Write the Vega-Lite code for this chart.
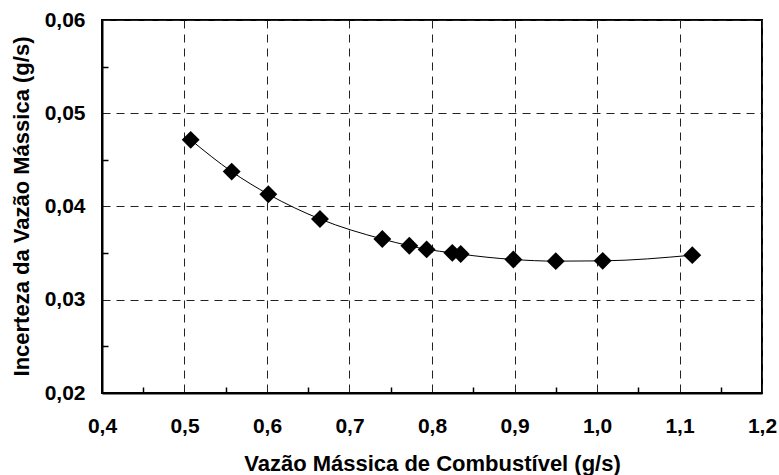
{
  "$schema": "https://vega.github.io/schema/vega-lite/v6.json",
  "width": 660,
  "height": 373,
  "autosize": {"type": "none"},
  "padding": {"left": 102, "top": 20, "right": 17, "bottom": 82},
  "background": "white",
  "config": {
    "view": {"stroke": "black", "strokeWidth": 2},
    "font": "Liberation Sans"
  },
  "data": {
    "values": [
      {"vazao": 0.5075, "incerteza": 0.04715},
      {"vazao": 0.5572, "incerteza": 0.04374},
      {"vazao": 0.6016, "incerteza": 0.04131},
      {"vazao": 0.6642, "incerteza": 0.03866},
      {"vazao": 0.7398, "incerteza": 0.03651},
      {"vazao": 0.7725, "incerteza": 0.03579},
      {"vazao": 0.7935, "incerteza": 0.03540},
      {"vazao": 0.8246, "incerteza": 0.03503},
      {"vazao": 0.8348, "incerteza": 0.03490},
      {"vazao": 0.8986, "incerteza": 0.03432},
      {"vazao": 0.9500, "incerteza": 0.03414},
      {"vazao": 1.0069, "incerteza": 0.03417},
      {"vazao": 1.1155, "incerteza": 0.03478}
    ]
  },
  "layer": [
    {
      "mark": {"type": "line", "interpolate": "monotone", "color": "black", "strokeWidth": 1},
      "encoding": {
        "x": {
          "field": "vazao", "type": "quantitative",
          "scale": {"domain": [0.4, 1.2], "nice": false, "zero": false},
          "axis": {
            "orient": "bottom",
            "values": [0.4, 0.5, 0.6, 0.7, 0.8, 0.9, 1.0, 1.1, 1.2],
            "grid": true, "gridDash": [8, 6], "gridColor": "#222", "gridWidth": 1,
            "ticks": false,
            "domainColor": "black", "domainWidth": 2,
            "labelFont": "Liberation Sans", "labelFontSize": 21, "labelFontWeight": "bold", "labelColor": "black",
            "labelPadding": 39, "labelBaseline": "alphabetic", "labelFlush": false,
            "labelExpr": "replace(format(datum.value, '.1f'), '.', ',')",
            "title": "Vazão Mássica de Combustível (g/s)",
            "titleFont": "Liberation Sans", "titleFontSize": 22, "titleFontWeight": "bold", "titleColor": "black",
            "titleX": 330, "titleY": 77, "titleBaseline": "alphabetic", "titleAlign": "center"
          }
        },
        "y": {
          "field": "incerteza", "type": "quantitative",
          "scale": {"domain": [0.02, 0.06], "nice": false, "zero": false},
          "axis": {
            "orient": "left",
            "values": [0.02, 0.03, 0.04, 0.05, 0.06],
            "grid": true, "gridDash": [8, 6], "gridColor": "#222", "gridWidth": 1,
            "ticks": false,
            "domainColor": "black", "domainWidth": 2,
            "labelFont": "Liberation Sans", "labelFontSize": 21, "labelFontWeight": "bold", "labelColor": "black",
            "labelPadding": 17, "labelFlush": false,
            "labelExpr": "replace(format(datum.value, '.2f'), '.', ',')",
            "title": "Incerteza da Vazão Mássica (g/s)",
            "titleFont": "Liberation Sans", "titleFontSize": 22, "titleFontWeight": "bold", "titleColor": "black",
            "titleX": -74, "titleY": 186, "titleBaseline": "alphabetic", "titleAlign": "center", "titleAngle": -90
          }
        }
      }
    },
    {
      "mark": {"type": "point", "shape": "diamond", "filled": true, "color": "black", "size": 320, "opacity": 1},
      "encoding": {
        "x": {
          "field": "vazao", "type": "quantitative",
          "axis": {
            "orient": "bottom",
            "values": [0.45, 0.55, 0.65, 0.75, 0.85, 0.95, 1.05, 1.15],
            "grid": false, "labels": false, "domain": false,
            "ticks": true, "tickSize": -6, "tickColor": "black", "tickWidth": 1.5,
            "title": null
          }
        },
        "y": {
          "field": "incerteza", "type": "quantitative",
          "axis": {
            "orient": "left",
            "values": [0.025, 0.035, 0.045, 0.055],
            "grid": false, "labels": false, "domain": false,
            "ticks": true, "tickSize": -6, "tickColor": "black", "tickWidth": 1.5,
            "title": null
          }
        }
      }
    }
  ],
  "resolve": {"axis": {"x": "independent", "y": "independent"}}
}
